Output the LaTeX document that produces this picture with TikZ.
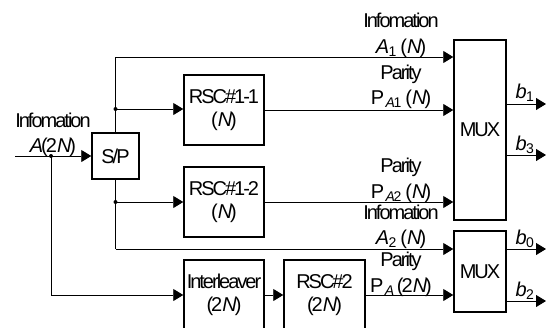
\documentclass[tikz,border=0pt]{standalone}
\usepackage{fontspec}
\setmainfont{Liberation Sans}[LetterSpace=-10]
\usetikzlibrary{arrows.meta}
\newcommand{\sbs}[1]{\kern1.5pt\textsubscript{#1}}
\begin{document}
\begin{tikzpicture}[x=1pt,y=-1pt,
  font=\fontsize{20}{23}\selectfont,
  blk/.style={draw,line width=1.5pt,minimum width=80pt,minimum height=70pt,inner sep=0pt,align=center},
  con/.style={line width=0.9pt},
  arr/.style={con,-{Triangle[length=10pt,width=12pt]}},
  lbl/.style={anchor=base,inner sep=0pt},
  dotc/.style={circle,fill,inner sep=0pt,minimum size=4pt}]
\clip (0,0) rectangle (548,327);
\fill[white] (0,0) rectangle (548,327);
% blocks
\node[blk,minimum width=47pt,minimum height=46pt] (sp) at (115.5,156) {S/P};
\node[blk] (r11) at (224,110) {RSC\#1-1\\(\textit{N})};
\node[blk] (r12) at (224,202) {RSC\#1-2\\(\textit{N})};
\node[blk] (il) at (224,295) {Interleaver\\(2\textit{N})};
\node[blk,minimum width=81pt] (r2) at (324.5,295) {RSC\#2\\(2\textit{N})};
\node[blk,minimum width=52pt,minimum height=180pt] (m1) at (480,130) {MUX};
\node[blk,minimum width=52pt,minimum height=81pt] (m2) at (480,271.5) {MUX};
% coordinates
\coordinate (in) at (15,156);
\node[dotc] (d0) at (51,156) {};
\node[dotc] (d1) at (115.5,109) {};
\node[dotc] (d2) at (115.5,202) {};
\coordinate (o1) at (546,104);
\coordinate (o3) at (546,155);
\coordinate (o0) at (546,249);
\coordinate (o2) at (546,301);
\coordinate (t1) at (115.5,57);
\coordinate (t2) at (115.5,249);
% connectors
\draw[arr] (in) -- (sp.west);
\draw[arr] (d0.center) |- (il.west);
\draw[con] (sp.north) -- (t1);
\draw[arr] (t1) -- (t1 -| m1.west);
\draw[arr] (d1.center) -- (d1 -| r11.west);
\draw[con] (sp.south) -- (t2);
\draw[arr] (t2) -- (t2 -| m2.west);
\draw[arr] (d2.center) -- (d2 -| r12.west);
\draw[arr] (r11.east) -- (r11.east -| m1.west);
\draw[arr] (r12.east) -- (r12.east -| m1.west);
\draw[arr] (il.east) -- (r2.west);
\draw[arr] (r2.east) -- (r2.east -| m2.west);
\draw[arr] (o1 -| m1.east) -- (o1);
\draw[arr] (o3 -| m1.east) -- (o3);
\draw[arr] (o0 -| m2.east) -- (o0);
\draw[arr] (o2 -| m2.east) -- (o2);
% labels
\node[lbl] (li) at (53,127) {Infomation};
\node[lbl] (la) at (53,152) {\textit{A}(2\textit{N})};
\node[lbl] (l1) at (401,27) {Infomation};
\node[lbl] (l2) at (401,53) {\textit{A}\sbs{1} (\textit{N})};
\node[lbl] (l3) at (401,79) {Parity};
\node[lbl] (l4) at (401,104) {P\sbs{\textit{A}1} (\textit{N})};
\node[lbl] (l5) at (401,172) {Parity};
\node[lbl] (l6) at (401,198) {P\sbs{\textit{A}2} (\textit{N})};
\node[lbl] (l7) at (401,219) {Infomation};
\node[lbl] (l8) at (401,244) {\textit{A}\sbs{2} (\textit{N})};
\node[lbl] (l9) at (401,266) {Parity};
\node[lbl] (l10) at (401,292) {P\sbs{\textit{A}} (2\textit{N})};
\node[lbl] (b1) at (525,98) {\textit{b}\sbs{1}};
\node[lbl] (b3) at (525,150) {\textit{b}\sbs{3}};
\node[lbl] (b0) at (525,244) {\textit{b}\sbs{0}};
\node[lbl] (b2) at (525,296) {\textit{b}\sbs{2}};
\end{tikzpicture}
\end{document}
